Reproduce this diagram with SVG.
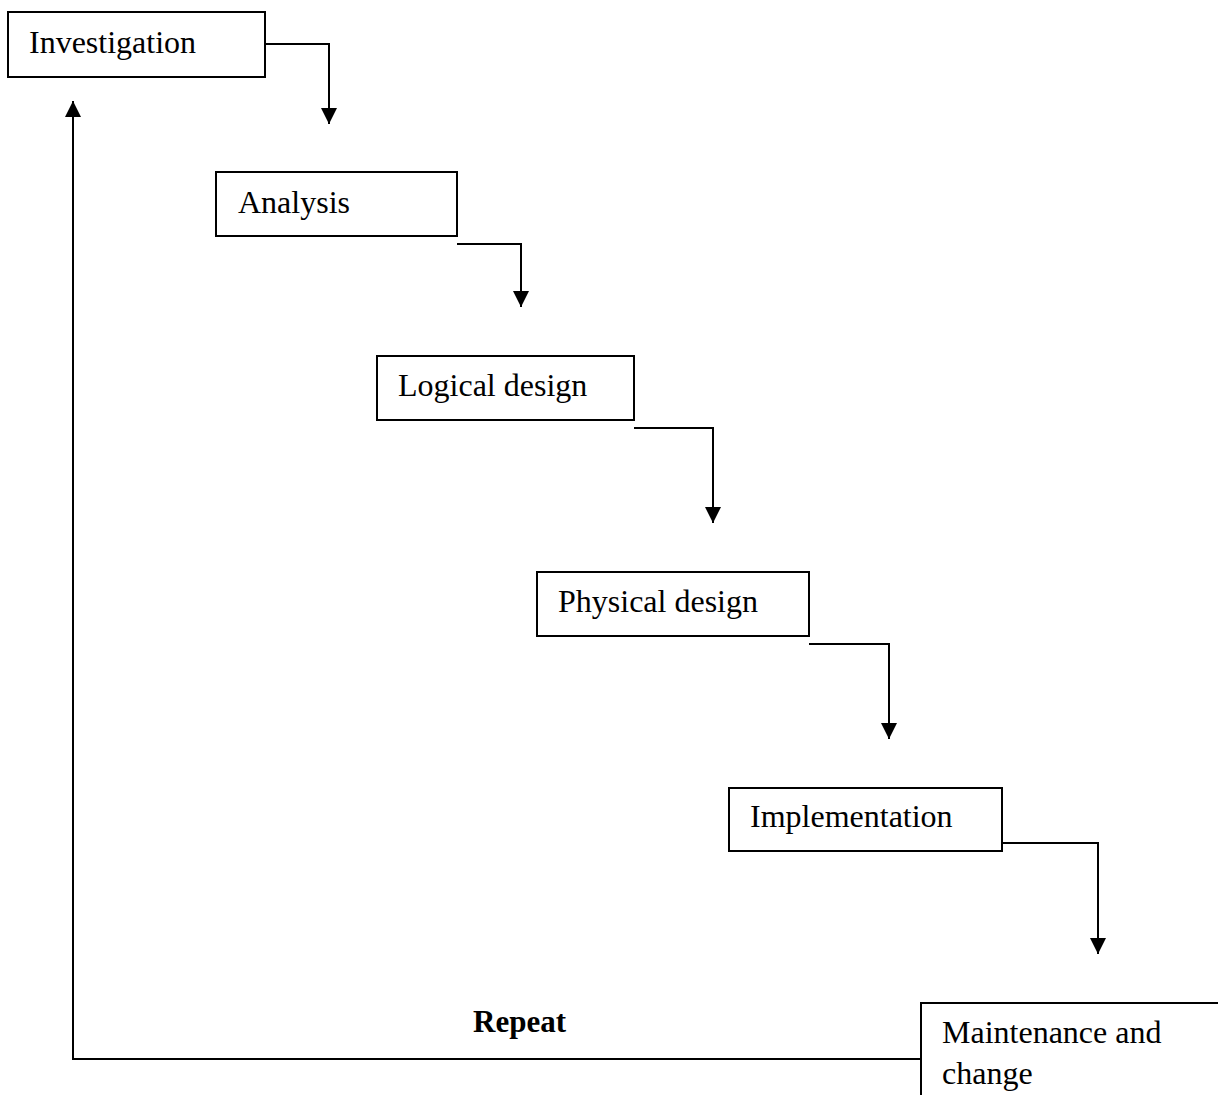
<svg xmlns="http://www.w3.org/2000/svg" width="1218" height="1095" viewBox="0 0 1218 1095">
<style>
.box{fill:#fff;stroke:#000;stroke-width:2}
.lbl{font-family:"Liberation Serif","Times New Roman",serif;font-size:32px;fill:#000}
.bold{font-weight:bold;font-size:31px}
.conn{fill:none;stroke:#000;stroke-width:2}
</style>
<defs>
<marker id="ah" markerUnits="userSpaceOnUse" markerWidth="16" markerHeight="18" viewBox="0 0 16 18" refX="16" refY="8" orient="auto">
<path d="M0,0 L16,8 L0,16 Z" fill="#000"/>
</marker>
</defs>
<rect width="1218" height="1095" fill="#fff"/>
<g id="connectors">
<path class="conn" d="M265,44 H329 V124" marker-end="url(#ah)"/>
<path class="conn" d="M457,244 H521 V307" marker-end="url(#ah)"/>
<path class="conn" d="M634,428 H713 V523" marker-end="url(#ah)"/>
<path class="conn" d="M809,644 H889 V739" marker-end="url(#ah)"/>
<path class="conn" d="M1002,843 H1098 V954" marker-end="url(#ah)"/>
<path class="conn" d="M921,1059 H73 V101" marker-end="url(#ah)"/>
</g>
<g id="investigation">
<rect class="box" x="8" y="12" width="257" height="65"/>
<text class="lbl" x="29" y="53">Investigation</text>
</g>
<g id="analysis">
<rect class="box" x="216" y="172" width="241" height="64"/>
<text class="lbl" x="238" y="213">Analysis</text>
</g>
<g id="logical">
<rect class="box" x="377" y="356" width="257" height="64"/>
<text class="lbl" x="398" y="396">Logical design</text>
</g>
<g id="physical">
<rect class="box" x="537" y="572" width="272" height="64"/>
<text class="lbl" x="558" y="612">Physical design</text>
</g>
<g id="implementation">
<rect class="box" x="729" y="788" width="273" height="63"/>
<text class="lbl" x="750" y="827">Implementation</text>
</g>
<g id="maintenance">
<rect class="box" x="921" y="1003" width="310" height="110"/>
<text class="lbl" x="942" y="1043">Maintenance and</text>
<text class="lbl" x="942" y="1084">change</text>
</g>
<g id="repeat-label">
<text class="lbl bold" x="473" y="1032">Repeat</text>
</g>
</svg>
